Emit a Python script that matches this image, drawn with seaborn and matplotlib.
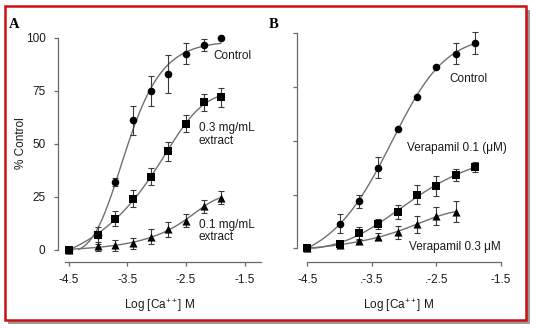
import numpy as np
import matplotlib
matplotlib.use("Agg")
import matplotlib.pyplot as plt
import seaborn as sns
from matplotlib.patches import Rectangle

# ---- data -------------------------------------------------------------
log_ca = [-4.5, -4.0, -3.7, -3.4, -3.1, -2.8, -2.5, -2.2, -1.9]

# Panel A: response to Ca++ with the extract
a_control = [0, 7, 32, 61, 75, 83, 92.5, 96.5, 100]
a_control_err = [0, 0, 2, 7, 7, 9, 5, 3, 0]
a_ext03 = [0, 6.8, 14.5, 24, 34.5, 46.5, 59.5, 69.5, 72]
a_ext03_err = [0, 4, 3.5, 4, 4, 4.5, 4, 4, 4.5]
a_ext01 = [0, 1.5, 2, 3, 6, 9.5, 13.7, 20.5, 24.5]
a_ext01_err = [0, 2, 2.5, 2.5, 3.5, 3.5, 3, 3, 3]

# Panel B: response to Ca++ with verapamil
b_control = [0, 11.5, 22, 37.5, 55.5, 70.5, 84.5, 90.5, 95.5]
b_control_err = [0, 4.5, 3, 5, 0, 0, 0, 5, 5]
b_vera01 = [0, 2, 7, 11.3, 17, 25, 29, 34, 38]
b_vera01_err = [0, 1.5, 3, 2.3, 3.2, 4.6, 4.8, 2.7, 2.3]
log_ca_b03 = [-4.5, -4.0, -3.7, -3.4, -3.1, -2.8, -2.5, -2.2]
b_vera03 = [0, 1.5, 3.5, 5.5, 7.5, 11.2, 15, 17]
b_vera03_err = [0, 1, 1, 1.5, 3.1, 4, 4.1, 4.8]

y_ticks = [0, 25, 50, 75, 100]
x_ticks = [-4.5, -3.5, -2.5, -1.5]
a_xticklabels = ["-4.5", "-3.5", "-2.5", "-1.5"]
b_xticklabels = ["-4.5", ".-3.5", ".-2.5", "-1.5"]

# ---- style ------------------------------------------------------------
sns.set_style("ticks")
plt.rcParams["font.family"] = ["Liberation Sans", "DejaVu Sans"]
plt.rcParams["mathtext.fontset"] = "custom"
plt.rcParams["mathtext.rm"] = "Liberation Sans"
plt.rcParams["mathtext.it"] = "Liberation Sans:italic"

FS = 8.5
TXT = "#1a1a1a"
SPINE = "#6a6a6a"
CURVE = "#707070"
ERR = "#3a3a3a"


def logistic5(x, c, h, m):
    return 1.0 / (1.0 + 10 ** ((c - x) * h)) ** m


def fit_logistic(x, y):
    """Five-parameter logistic fit: grid search on EC50, slope and asymmetry,
    least squares for bottom and span."""
    x = np.asarray(x, float)
    y = np.asarray(y, float)
    C, H, M = np.meshgrid(np.arange(-5.0, 0.0, 0.02),
                          np.arange(0.3, 3.0, 0.03),
                          np.geomspace(0.25, 4.0, 13))
    C = C.ravel()[:, None]
    H = H.ravel()[:, None]
    M = M.ravel()[:, None]
    f = logistic5(x, C, H, M)
    fm = f.mean(1, keepdims=True)
    ym = y.mean()
    var = ((f - fm) ** 2).sum(1, keepdims=True) + 1e-12
    s = ((f - fm) * (y - ym)).sum(1, keepdims=True) / var
    b = ym - s * fm
    sse = ((b + s * f - y) ** 2).sum(1)
    i = np.argmin(sse)
    return C[i, 0], H[i, 0], M[i, 0], b[i, 0], s[i, 0]


def draw_series(ax, x, y, err, marker, size):
    c, h, m, b, s = fit_logistic(x, y)
    xs = np.linspace(min(x), max(x), 300)
    ys = b + s * logistic5(xs, c, h, m)
    keep = ys >= 0
    sns.lineplot(x=xs[keep], y=ys[keep], ax=ax, color=CURVE, lw=1.0, zorder=2)
    ax.errorbar(x, y, yerr=err, fmt="none", ecolor=ERR, elinewidth=0.8,
                capsize=2.5, capthick=0.8, zorder=3, clip_on=False)
    sns.scatterplot(x=x, y=y, ax=ax, marker=marker, s=size, color="black",
                    edgecolor="black", linewidth=0, zorder=4, clip_on=False)


def style_axes(ax, xlim, ylim, xlabels, ylabels):
    ax.set_xlim(*xlim)
    ax.set_ylim(*ylim)
    for side in ("top", "right"):
        ax.spines[side].set_visible(False)
    for side in ("left", "bottom"):
        ax.spines[side].set_color(SPINE)
        ax.spines[side].set_linewidth(0.9)
    ax.spines["left"].set_bounds(0, 100)
    ax.set_yticks(y_ticks)
    ax.set_xticks(x_ticks)
    ax.set_xticklabels(xlabels)
    if ylabels:
        ax.set_yticklabels([str(v) for v in y_ticks])
    else:
        ax.set_yticklabels([])
    ax.tick_params(axis="both", length=3, width=0.9, color=SPINE,
                   labelsize=FS, labelcolor=TXT, pad=6)
    ax.set_xlabel(r"Log [Ca$^{++}$] M", fontsize=FS, color=TXT, labelpad=8)
    ax.set_ylabel("")
    ax.patch.set_visible(False)


W, Hpx = 536, 328
fig = plt.figure(figsize=(W / 100, Hpx / 100), dpi=100)
fig.patch.set_facecolor("white")

# frame with drop shadow
fig.patches.append(Rectangle((8 / W, 1 - 324 / Hpx), 522 / W, 314 / Hpx,
                             transform=fig.transFigure, facecolor="#9a9a9a",
                             edgecolor="none", zorder=0))
fig.patches.append(Rectangle((5 / W, 1 - 319.5 / Hpx), 520.5 / W, 314 / Hpx,
                             transform=fig.transFigure, facecolor="white",
                             edgecolor="#cc1010", linewidth=1.8, zorder=1))


def px_axes(left, right, top, bottom):
    return fig.add_axes([left / W, 1 - bottom / Hpx, (right - left) / W, (bottom - top) / Hpx])


# ---- panel A ----------------------------------------------------------
axA = px_axes(58, 261, 37.7, 261.7)
axA.set_zorder(2)
draw_series(axA, log_ca, a_control, a_control_err, "o", 30)
draw_series(axA, log_ca, a_ext01, a_ext01_err, "^", 34)
draw_series(axA, log_ca, a_ext03, a_ext03_err, "s", 30)
style_axes(axA, (-4.68, -1.22), (-5.7, 100), a_xticklabels, True)
axA.spines["bottom"].set_bounds(-4.56, -1.22)
axA.text(-2.03, 91.5, "Control", fontsize=FS, color=TXT, va="center", ha="left")
axA.text(-2.28, 54.2, "0.3 mg/mL\nextract", fontsize=FS, color=TXT,
         va="center", ha="left", linespacing=1.1)
axA.text(-2.28, 8.8, "0.1 mg/mL\nextract", fontsize=FS, color=TXT,
         va="center", ha="left", linespacing=1.1)
fig.text(21 / W, 1 - 143 / Hpx, "% Control", rotation=90, fontsize=FS,
         color=TXT, ha="center", va="center")
fig.text(14 / W, 1 - 24 / Hpx, "A", fontsize=10.5, fontweight="bold",
         family="Liberation Serif", ha="center", va="center", color="black")

# ---- panel B ----------------------------------------------------------
axB = px_axes(297, 501, 33.3, 261.7)
axB.set_zorder(2)
draw_series(axB, log_ca, b_control, b_control_err, "o", 30)
draw_series(axB, log_ca_b03, b_vera03, b_vera03_err, "^", 34)
draw_series(axB, log_ca, b_vera01, b_vera01_err, "s", 30)
style_axes(axB, (-4.66, -1.5), (-6.2, 100), b_xticklabels, False)
axB.spines["bottom"].set_bounds(-4.5, -1.5)
axB.text(-2.30, 78.7, "Control", fontsize=FS, color=TXT, va="center", ha="left")
axB.text(-2.96, 46.8, "Verapamil 0.1 (μM)", fontsize=FS, color=TXT,
         va="center", ha="left")
axB.text(-2.92, 0.7, "Verapamil 0.3 μM", fontsize=FS, color=TXT,
         va="center", ha="left")
fig.text(274 / W, 1 - 24 / Hpx, "B", fontsize=10.5, fontweight="bold",
         family="Liberation Serif", ha="center", va="center", color="black")

fig.savefig("out.png", dpi=100, facecolor="white")
